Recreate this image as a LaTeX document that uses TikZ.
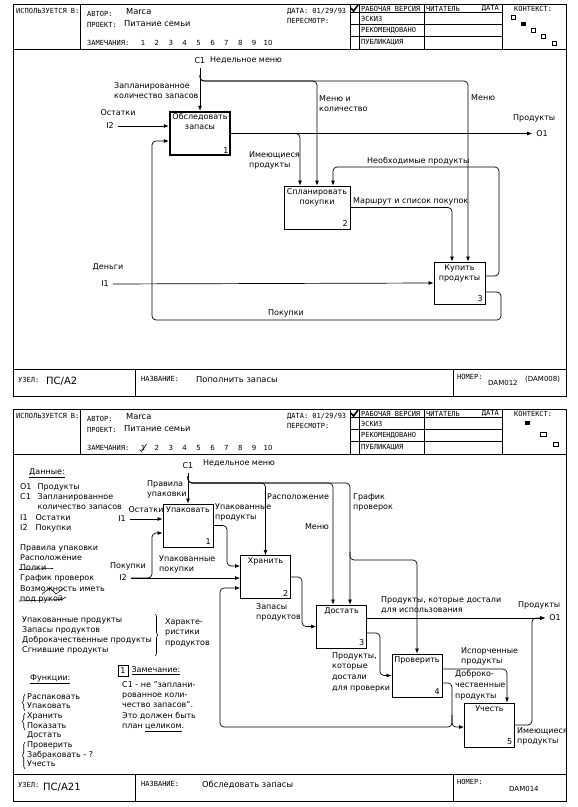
\documentclass[tikz,border=0pt]{standalone}
\usepackage{fontspec}
\setmainfont{DejaVu Sans}
\newfontfamily\hdrfont{DejaVu Sans Mono}
\usetikzlibrary{arrows.meta,calc,positioning,decorations.pathreplacing}

\tikzset{
  frame/.style={line width=0.8pt},
  grid/.style={line width=1pt},
  hdr/.style={font=\hdrfont\fontsize{7}{8}\selectfont, inner sep=0pt, anchor=west},
  val/.style={font=\fontsize{8.3}{10}\selectfont, inner sep=0pt, anchor=west},
  lbl/.style={font=\fontsize{8}{10.3}\selectfont, inner sep=0pt, align=left},
  code/.style={font=\fontsize{8}{10}\selectfont, inner sep=4pt},
  boxtxt/.style={font=\fontsize{8}{10}\selectfont, inner sep=2.5pt, align=center},
  act/.style={draw, line width=0.9pt, minimum width=50pt, minimum height=43pt, inner sep=0pt},
  flow/.style={line width=0.7pt, rounded corners=4pt, -{Latex[length=5pt,width=4pt]}},
  brc/.style={line width=0.6pt, decorate, decoration={brace, amplitude=3pt}}
}

\begin{document}
\begin{tikzpicture}[x=1pt, y=-1pt]
\useasboundingbox (0,0) rectangle (578,807);

% Forms
\foreach \oy/\f in {0/a,405/b}{
  \begin{scope}[shift={(0,\oy)}]
    \draw[frame] (13,4) rectangle (566,396);
    \draw[frame] (13,49) -- (566,49);
    \draw[frame] (80,4) -- (80,49);
    \draw[frame] (13,369) -- (566,369);
    \draw[frame] (135,369) -- (135,396);
    \draw[frame] (453,369) -- (453,396);
    \draw[grid] (350,4) rectangle (502,49);
    \draw[grid] (359,4) -- (359,49) (424,4) -- (424,49);
    \draw[grid] (350,12.5) -- (502,12.5) (350,24.5) -- (502,24.5) (350,36.5) -- (502,36.5);
    \draw[line width=1.6pt] (351,8) -- (353.5,11) -- (358,5);
    \node[hdr] (used\f) at (16,11) {ИСПОЛЬЗУЕТСЯ В:};
    \node[hdr] (auth\f) at (87,14) {АВТОР:};
    \node[val] (authv\f) at (126,12) {Marca};
    \node[hdr] (proj\f) at (87,25) {ПРОЕКТ:};
    \node[val] (projv\f) at (124,24) {Питание семьи};
    \node[hdr] (rem\f) at (87,43) {ЗАМЕЧАНИЯ:};
    \foreach \n in {1,...,10}
      \node[val, anchor=center, font=\fontsize{7}{8}\selectfont] (r\n\f) at ({143+13.9*(\n-1)},43) {\n};
    \node[hdr] (date\f) at (287,11) {ДАТА: 01/29/93};
    \node[hdr] (rev\f) at (287,21) {ПЕРЕСМОТР:};
    \node[hdr] (work\f) at (361,8.5) {РАБОЧАЯ ВЕРСИЯ};
    \node[hdr] (read\f) at (426,8.5) {ЧИТАТЕЛЬ};
    \node[hdr, anchor=east] (rdate\f) at (499,8.5) {ДАТА};
    \node[hdr] (draft\f) at (361,18.5) {ЭСКИЗ};
    \node[hdr] (recom\f) at (361,30.5) {РЕКОМЕНДОВАНО};
    \node[hdr] (publ\f) at (361,42.5) {ПУБЛИКАЦИЯ};
    \node[hdr] (ctx\f) at (514,9) {КОНТЕКСТ:};
    \node[hdr] (uzel\f) at (18,380) {УЗЕЛ:};
    \node[hdr] (title\f) at (141,379) {НАЗВАНИЕ:};
    \node[hdr] (num\f) at (457,377) {НОМЕР:};
  \end{scope}
}

% Sheet 1: context and footer
\draw (511,15) rectangle (515.5,19.5);
\fill (521,22) rectangle (525.5,26);
\draw (531,28) rectangle (535.5,32);
\draw (541,34) rectangle (545.5,38);
\draw (552,41) rectangle (556.5,45);
\node[val, font=\fontsize{10}{12}\selectfont] (nodea) at (46,381) {ПС/А2};
\node[val] (namea) at (196,380) {Пополнить запасы};
\node[val, font=\fontsize{7}{8}\selectfont] (numa) at (488,383) {DAM012};
\node[val, font=\fontsize{7}{8}\selectfont] (olda) at (525,379) {(DAM008)};

% Sheet 1: activities
\node[act, minimum width=60pt, line width=2.4pt,
  label={[boxtxt, anchor=north]north:Обследовать\\запасы},
  label={[boxtxt, anchor=south east]south east:1}] (b1) at (200,133.5) {};
\node[act, minimum width=66pt,
  label={[boxtxt, anchor=north]north:Спланировать\\покупки},
  label={[boxtxt, anchor=south east]south east:2}] (b2) at (317,207.5) {};
\node[act, minimum width=51pt, minimum height=42pt,
  label={[boxtxt, anchor=north]north:Купить\\продукты},
  label={[boxtxt, anchor=south east]south east:3}] (b3) at (459.5,283) {};

% Sheet 1: boundary arrows
\node[code] (c1t) at (200,61) {C1};
\node[code] (i2t) at (110,126) {I2};
\node[code] (i1t) at (105,284) {I1};
\node[code] (o1t) at (542,133.5) {O1};
\coordinate (t1) at (200,75);

\draw[flow] (c1t) -- (b1);
\draw[flow] (t1) |- (317,81) -- (b2.north);
\draw[flow] (t1) |- (468,81) -- ($(b3.north)+(8.5,0)$);
\draw[flow] (i2t) -- ($(b1.west)+(0,-7.5)$);
\draw[flow] (i1t) -- (b3.west);
\draw[flow] (b1.east) -- (o1t);
\draw[flow] (b1.east) -- (300,133.5) -- ($(b2.north)+(-17,0)$);
\draw[flow] (b2.east) -| ($(b3.north)+(-7.5,0)$);
\draw[flow] ($(b3.east)+(0,-7)$) -| (499,167) -| ($(b2.north)+(16,0)$);
\draw[flow] ($(b3.east)+(0,9)$) -| (501,320) -| (152,141) -- ($(b1.west)+(0,7.5)$);

% Sheet 1: labels
\node[lbl, anchor=west] (l1) at (210,60) {Недельное меню};
\node[lbl, anchor=north west] (l2) at (114,82) {Запланированное\\количество запасов};
\node[lbl] (l3) at (118,113) {Остатки};
\node[lbl, anchor=north west] (l4) at (319,95) {Меню и\\количество};
\node[lbl, anchor=west] (l5) at (471,98) {Меню};
\node[lbl, anchor=west] (l6) at (513,118) {Продукты};
\node[lbl, anchor=north west] (l7) at (249,151) {Имеющиеся\\продукты};
\node[lbl, anchor=west] (l8) at (367,161) {Необходимые продукты};
\node[lbl, anchor=west] (l9) at (353,201) {Маршрут и список покупок};
\node[lbl] (l10) at (108,267) {Деньги};
\node[lbl, anchor=west] (l11) at (268,313) {Покупки};

% Sheet 2: context, remark and footer
\fill (525,421) rectangle (530,425);
\draw (540,432) rectangle (546,436.5);
\draw (553,442) rectangle (558.5,446.5);
\draw[line width=0.6pt] (139.5,449.5) -- (141.5,451.5) -- (146.5,444);
\node[val, font=\fontsize{10}{12}\selectfont] (nodeb) at (43,787) {ПС/А21};
\node[val] (nameb) at (202,785) {Обследовать запасы};
\node[val, font=\fontsize{7}{8}\selectfont] (numb) at (509,789) {DAM014};

% Sheet 2: activities
\node[act,
  label={[boxtxt, anchor=north]north:Упаковать},
  label={[boxtxt, anchor=south east]south east:1}] (u1) at (188,525.5) {};
\node[act,
  label={[boxtxt, anchor=north]north:Хранить},
  label={[boxtxt, anchor=south east]south east:2}] (u2) at (265.5,577) {};
\node[act,
  label={[boxtxt, anchor=north]north:Достать},
  label={[boxtxt, anchor=south east]south east:3}] (u3) at (341.5,626.5) {};
\node[act,
  label={[boxtxt, anchor=north]north:Проверить},
  label={[boxtxt, anchor=south east]south east:4}] (u4) at (417,675.5) {};
\node[act, minimum height=44pt,
  label={[boxtxt, anchor=north]north:Учесть},
  label={[boxtxt, anchor=south east]south east:5}] (u5) at (489.5,725) {};

% Sheet 2: boundary arrows
\node[code] (c1b) at (188,466) {C1};
\node[code] (i1b) at (122,519) {I1};
\node[code] (i2b) at (123,578) {I2};
\node[code] (o1b) at (555,618) {O1};
\coordinate (t2) at (188,476);
\coordinate (t3) at (350,552);
\coordinate (t4) at (452,715);

\draw[flow] (c1b) -- (u1);
\draw[flow] (t2) |- (265.5,483) -- (u2.north);
\draw[flow] (t2) |- (333,483) -- ($(u3.north)+(-8.5,0)$);
\draw[flow] (t2) |- (350,483) -- ($(u3.north)+(8.5,0)$);
\draw[flow] (t3) |- (417,560) -- (u4.north);
\draw[flow] (i1b) -- ($(u1.west)+(0,-6.5)$);
\draw[flow] (i2b) -- ($(u2.west)+(0,1)$);
\draw[flow] (i2b.east) -| (152,533) -- ($(u1.west)+(0,7.5)$);
\draw[flow] (u1.east) -| (227,566) -- ($(u2.west)+(0,-11)$);
\draw[flow] (u2.east) -| (302,626.5) -- (u3.west);
\draw[flow] ($(u3.east)+(0,-8.5)$) -- (o1b);
\draw[flow] ($(u3.east)+(0,6.5)$) -| (380,675.5) -- (u4.west);
\draw[flow] ($(u4.east)+(0,-6.5)$) -| ($(u5.north)+(17.5,0)$);
\draw[flow] ($(u4.east)+(0,7.5)$) -| (452,727) -- ($(u5.west)+(0,2)$);
\draw[flow] (t4) |- (220,727) |- ($(u2.west)+(0,11)$);
\draw[flow] (u5.east) -| (532,618) -- (o1b);

% Sheet 2: labels
\node[lbl, anchor=west] (m1) at (203,463) {Недельное меню};
\node[lbl, anchor=north west] (m2) at (147,480) {Правила\\упаковки};
\node[lbl] (m3) at (146,510) {Остатки};
\node[lbl, anchor=north west] (m4) at (215,503) {Упакованные\\продукты};
\node[lbl, anchor=west] (m5) at (267,497) {Расположение};
\node[lbl, anchor=east] (m6) at (329,527) {Меню};
\node[lbl, anchor=north west] (m7) at (353,493) {График\\проверок};
\node[lbl] (m8) at (128,566) {Покупки};
\node[lbl, anchor=north west] (m9) at (159,555) {Упакованные\\покупки};
\node[lbl, anchor=north west] (m10) at (256,603) {Запасы\\продуктов};
\node[lbl, anchor=north west] (m11) at (381,596) {Продукты, которые достали\\для использования};
\node[lbl, anchor=west] (m12) at (518,605) {Продукты};
\node[lbl, anchor=north west, font=\fontsize{8}{10.9}\selectfont] (m13) at (332,652) {Продукты,\\которые\\достали\\для проверки};
\node[lbl, anchor=north west] (m14) at (461,647) {Испорченные\\продукты};
\node[lbl, anchor=north west, font=\fontsize{8}{10.9}\selectfont] (m15) at (455,670) {Доброко-\\чественные\\продукты};
\node[lbl, anchor=north west] (m16) at (517,727) {Имеющиеся\\продукты};

% Sheet 2: notes
\node[lbl, anchor=west] (d0) at (29,473) {\underline{Данные:}};
\node[lbl, anchor=north west] (d1) at (20,483) {\makebox[17.5pt][l]{O1}Продукты\\\makebox[17.5pt][l]{C1}Запланированное\\\makebox[17.5pt][l]{}количество запасов\\\makebox[15.5pt][l]{I1}Остатки\\\makebox[15.5pt][l]{I2}Покупки};
\node[lbl, anchor=north west] (d2) at (20,544) {Правила упаковки\\Расположение\\Полки\\График проверок\\Возможность иметь\\под рукой};
\draw[line width=0.6pt] (19,569.5) -- (53,568.5);
\draw[line width=0.5pt] (42,594) -- (50,588) -- (56,594) -- (64,588);
\draw[line width=0.6pt] (19,601) -- (62,599.5) -- (66,597);
\node[lbl, anchor=north west] (d3) at (22,616) {Упакованные продукты\\Запасы продуктов\\Доброкачественные продукты\\Сгнившие продукты};
\draw[brc] (155,614) -- (155,656);
\node[lbl, anchor=north west, font=\fontsize{8}{10.5}\selectfont] (d4) at (165,618) {Характе-\\ристики\\продуктов};
\node[draw, line width=0.7pt, minimum width=10pt, minimum height=11pt, inner sep=0pt,
  font=\fontsize{8}{10}\selectfont] (nt) at (123,671) {1};
\node[lbl, right=3pt of nt] (ntt) {\underline{Замечание:}};
\node[lbl, anchor=north west] (nt1) at (122,681) {C1 - не "заплани-\\рованное коли-\\чество запасов".\\Это должен быть\\план \underline{целиком}.};
\node[lbl, anchor=west] (f0) at (30,679) {\underline{Функции:}};
\node[lbl, anchor=north west, font=\fontsize{8}{9.7}\selectfont] (f1) at (27,693) {Распаковать\\Упаковать\\Хранить\\Показать\\Достать\\Проверить\\Забраковать - ?\\Учесть};
\draw[brc, decoration={amplitude=2.5pt}] (25,711) -- (25,694);
\draw[brc, decoration={amplitude=2.5pt}] (25,730) -- (25,713);
\draw[brc, decoration={amplitude=2.5pt}] (25,769) -- (25,742);

\end{tikzpicture}
\end{document}
